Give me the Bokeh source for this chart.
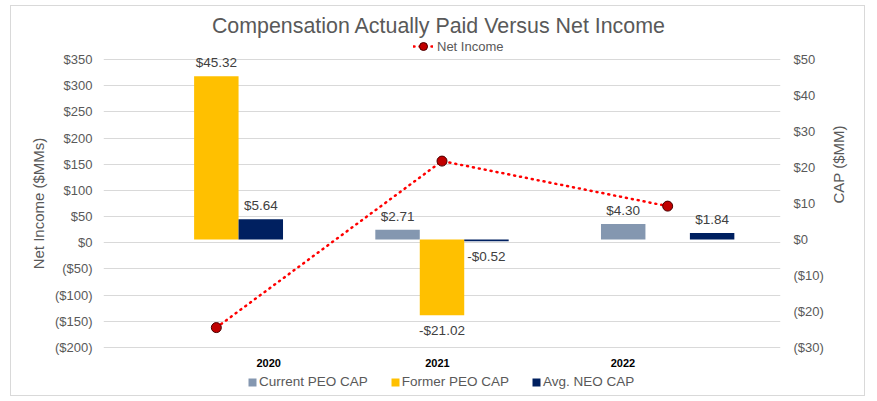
import math
import numpy as np
from bokeh.plotting import figure
from bokeh.models import (Range1d, LinearAxis, FixedTicker, CustomJSTickFormatter,
                          Legend, LegendItem, Label, LabelSet, ColumnDataSource)
from bokeh.embed import file_html
from bokeh.resources import INLINE
from bokeh.core.properties import value

# ---------------- data ----------------
years = ["2020", "2021", "2022"]
current_peo_cap = [None, 2.71, 4.30]
former_peo_cap = [45.32, -21.02, None]
avg_neo_cap = [5.64, -0.52, 1.84]
net_income = [-162, 156, 70]

left_ticks = [-200, -150, -100, -50, 0, 50, 100, 150, 200, 250, 300, 350]
right_ticks = [-30, -20, -10, 0, 10, 20, 30, 40, 50]

series_names = ["Current PEO CAP", "Former PEO CAP", "Avg. NEO CAP"]
series_colors = ["#8497B0", "#FFC000", "#002060"]
title_text = "Compensation Actually Paid Versus Net Income"

# ---------------- styling ----------------
FONT = "Liberation Sans"
TXT = "#595959"
BAR_W = 0.197
label_shift = [0.232, -0.02, -0.198]   # year labels are offset in the reference
AXIS_PX = 288        # pixel height of the value axes
PAD_PX = 50          # extra frame space above/below, used for title / legends

def arr(v):
    return np.array([np.nan if a is None else a for a in v], dtype=float)

def padded(lo, hi):
    ext = (hi - lo) * PAD_PX / AXIS_PX
    return Range1d(lo - ext, hi + ext)

x_idx = np.arange(len(years)) + 0.5

p = figure(width=855, height=391, output_backend="svg", toolbar_location=None,
           x_range=Range1d(0, len(years)),
           y_range=padded(min(left_ticks), max(left_ticks)),
           min_border_left=92, min_border_right=86, min_border_top=3, min_border_bottom=0)
p.styles = {"margin-left": "10px", "margin-top": "5px", "border": "1px solid #D9D9D9"}
p.outline_line_color = None
p.extra_y_ranges = {"cap": padded(min(right_ticks), max(right_ticks))}

money_fmt = CustomJSTickFormatter(code="return tick < 0 ? '($' + Math.abs(tick) + ')' : '$' + tick;")

# left axis
yax = p.yaxis[0]
yax.ticker = FixedTicker(ticks=left_ticks)
yax.formatter = money_fmt
yax.axis_label = "Net Income ($MMs)"
# right axis
rax = LinearAxis(y_range_name="cap", ticker=FixedTicker(ticks=right_ticks),
                 formatter=money_fmt, axis_label="CAP ($MM)")
p.add_layout(rax, "right")

for ax in (yax, rax):
    ax.axis_line_color = None
    ax.major_tick_line_color = None
    ax.minor_tick_line_color = None
    ax.major_tick_out = 0
    ax.major_label_text_font = FONT
    ax.major_label_text_font_size = "13px"
    ax.major_label_text_color = TXT
    ax.axis_label_text_font = FONT
    ax.axis_label_text_font_size = "15px"
    ax.axis_label_text_font_style = "normal"
    ax.axis_label_text_color = TXT
yax.major_label_standoff = 11
yax.axis_label_standoff = 5
rax.major_label_standoff = 13
rax.axis_label_standoff = 12
try:
    rax.axis_label_orientation = math.pi / 2
except Exception:
    pass

p.xaxis.visible = False
p.xgrid.visible = False
p.ygrid.ticker = FixedTicker(ticks=left_ticks)
p.ygrid.grid_line_color = "#D9D9D9"
p.ygrid.grid_line_width = 1

# year labels (placed below the value area, offset like the reference)
year_src = ColumnDataSource(dict(x=x_idx + np.array(label_shift), text=years))
p.add_layout(LabelSet(x="x", y=35, y_units="screen", text="text", source=year_src,
                      text_align="center", text_baseline="middle",
                      text_font=value(FONT), text_font_size="11px",
                      text_font_style="bold", text_color="#000000"))

# title
p.add_layout(Label(x=335.5, y=371.5, x_units="screen", y_units="screen", text=title_text,
                   text_align="center", text_baseline="middle",
                   text_font=FONT, text_font_size="21.4px", text_color=TXT))

# bars
series_vals = [current_peo_cap, former_peo_cap, avg_neo_cap]
offsets = [-BAR_W, 0.0, BAR_W]
bar_renderers = []
pos_x, pos_y, pos_t, neg_x, neg_y, neg_t = [], [], [], [], [], []
for vals, col, off in zip(series_vals, series_colors, offsets):
    xs = x_idx + off
    r = p.vbar(x=xs, top=arr(vals), bottom=0, width=BAR_W, y_range_name="cap",
               fill_color=col, line_color=None)
    bar_renderers.append(r)
    for xx, v in zip(xs, vals):
        if v is None:
            continue
        if v >= 0:
            pos_x.append(xx); pos_y.append(v); pos_t.append("$%.2f" % v)
        else:
            neg_x.append(xx); neg_y.append(v); neg_t.append("-$%.2f" % abs(v))

p.text(x=pos_x, y=pos_y, text=pos_t, y_range_name="cap", text_align="center",
       text_baseline="bottom", y_offset=-6, text_font=value(FONT),
       text_font_size="13.5px", text_color="#404040")
p.text(x=neg_x, y=neg_y, text=neg_t, y_range_name="cap", text_align="center",
       text_baseline="top", y_offset=8, text_font=value(FONT),
       text_font_size="13.5px", text_color="#404040")

# net income line
r_line = p.line(x_idx, net_income, line_color="#FF0000", line_width=2.5,
                line_dash="1 5", line_cap="round")
r_pts = p.scatter(x_idx, net_income, size=10, fill_color="#C00000",
                  line_color="#4A0000", line_width=1)

leg_top = Legend(items=[LegendItem(label="Net Income", renderers=[r_line, r_pts])],
                 location=(310, 341), orientation="horizontal",
                 glyph_width=20, glyph_height=20, label_standoff=4,
                 padding=0, margin=0, border_line_color=None, background_fill_alpha=0,
                 label_text_font=FONT, label_text_font_size="13px", label_text_color=TXT)
p.add_layout(leg_top)

leg_bot = Legend(items=[LegendItem(label=n, renderers=[r]) for n, r in zip(series_names, bar_renderers)],
                 location=(144, 8), orientation="horizontal",
                 glyph_width=10, glyph_height=10, label_height=10, label_standoff=2, spacing=22,
                 padding=0, margin=0, border_line_color=None, background_fill_alpha=0,
                 label_text_font=FONT, label_text_font_size="13.5px", label_text_color=TXT)
p.add_layout(leg_bot)

open("out.html", "w").write(file_html(p, INLINE))
